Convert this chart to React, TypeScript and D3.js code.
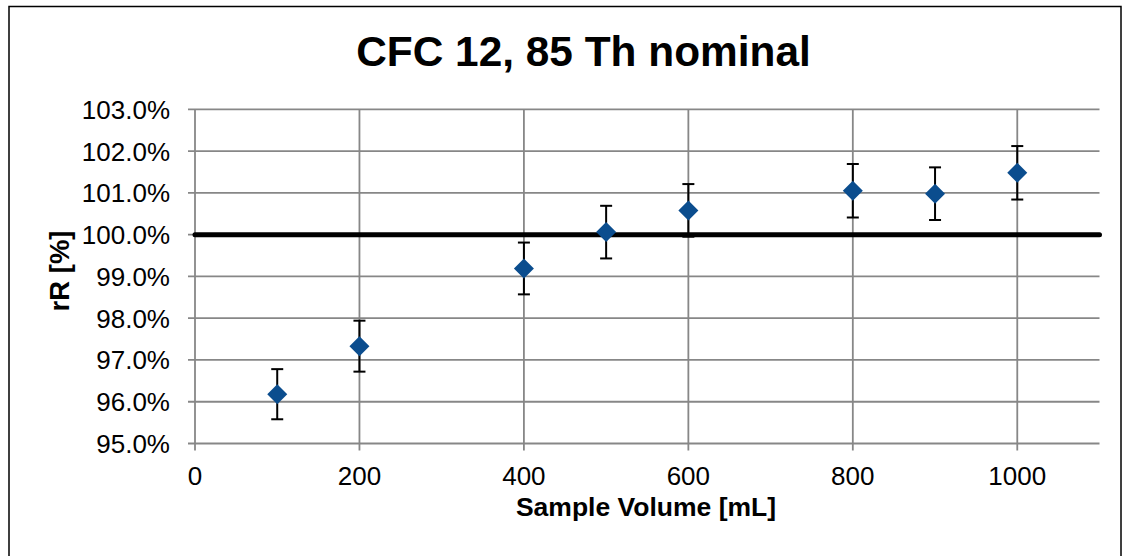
import React from "react";
import * as d3 from "d3";

const volumes = [100, 200, 400, 500, 600, 800, 900, 1000];
const recovery = [96.18, 97.33, 99.19, 100.06, 100.58, 101.05, 100.98, 101.48];
const errors = [0.6, 0.61, 0.62, 0.63, 0.63, 0.64, 0.63, 0.64];
const xTicks = [0, 200, 400, 600, 800, 1000];
const yTicks = [95, 96, 97, 98, 99, 100, 101, 102, 103];
const referenceValue = 100;
const titleText = "CFC 12, 85 Th nominal";
const xTitle = "Sample Volume [mL]";
const yTitle = "rR [%]";

const W = 1138;
const H = 556;
const FONT = "'Liberation Sans', Arial, sans-serif";

export default function App() {
  const x = d3.scaleLinear().domain([0, 1100]).range([195, 1099.5]);
  const y = d3.scaleLinear().domain([95, 103]).range([443.5, 109.3]);
  const grid = "#878787";
  const blue = "#0B4D8E";
  const fmt = (v: number) => v.toFixed(1) + "%";
  const markerPath = d3.symbol().type(d3.symbolSquare).size(200)() || "";

  return (
    <div style={{ position: "absolute", left: 0, top: 0 }}>
      <svg width={W} height={H} style={{ display: "block" }}>
        <rect x={0} y={0} width={W} height={H} fill="#fff" />
        <rect x={9} y={6.5} width={1112} height={600} fill="none" stroke="#000" strokeWidth={1.5} />
        <text x={583.5} y={66} textAnchor="middle" fontFamily={FONT} fontWeight="bold" fontSize={42.4}>
          {titleText}
        </text>
        {yTicks.map((t) => (
          <line key={"hy" + t} x1={188} x2={x(1100)} y1={y(t)} y2={y(t)} stroke={grid} strokeWidth={1.8} />
        ))}
        {xTicks.map((t) => (
          <line key={"vx" + t} x1={x(t)} x2={x(t)} y1={y(103)} y2={y(95) + 7} stroke={grid} strokeWidth={1.8} />
        ))}
        {yTicks.map((t) => (
          <text key={"yl" + t} x={170} y={y(t) + 9.5} textAnchor="end" fontFamily={FONT} fontSize={26} fill="#000">
            {fmt(t)}
          </text>
        ))}
        {xTicks.map((t) => (
          <text key={"xl" + t} x={x(t)} y={485} textAnchor="middle" fontFamily={FONT} fontSize={26} fill="#000">
            {t}
          </text>
        ))}
        <text x={646} y={516} textAnchor="middle" fontFamily={FONT} fontWeight="bold" fontSize={26.5}>
          {xTitle}
        </text>
        <text
          transform={`translate(69, 271) rotate(-90)`}
          textAnchor="middle"
          fontFamily={FONT}
          fontWeight="bold"
          fontSize={27.5}
        >
          {yTitle}
        </text>
        <line
          x1={x(0)}
          x2={x(1100)}
          y1={y(referenceValue)}
          y2={y(referenceValue)}
          stroke="#000"
          strokeWidth={5}
          strokeLinecap="round"
        />
        {volumes.map((v, i) => {
          const cx = x(v);
          const top = y(recovery[i] + errors[i]);
          const bot = y(recovery[i] - errors[i]);
          return (
            <g key={"e" + v} stroke="#000" strokeWidth={2}>
              <line x1={cx} x2={cx} y1={top} y2={bot} />
              <line x1={cx - 6} x2={cx + 6} y1={top} y2={top} />
              <line x1={cx - 6} x2={cx + 6} y1={bot} y2={bot} />
            </g>
          );
        })}
        {volumes.map((v, i) => (
          <path
            key={"m" + v}
            d={markerPath}
            transform={`translate(${x(v)},${y(recovery[i])}) rotate(45)`}
            fill={blue}
          />
        ))}
      </svg>
    </div>
  );
}
